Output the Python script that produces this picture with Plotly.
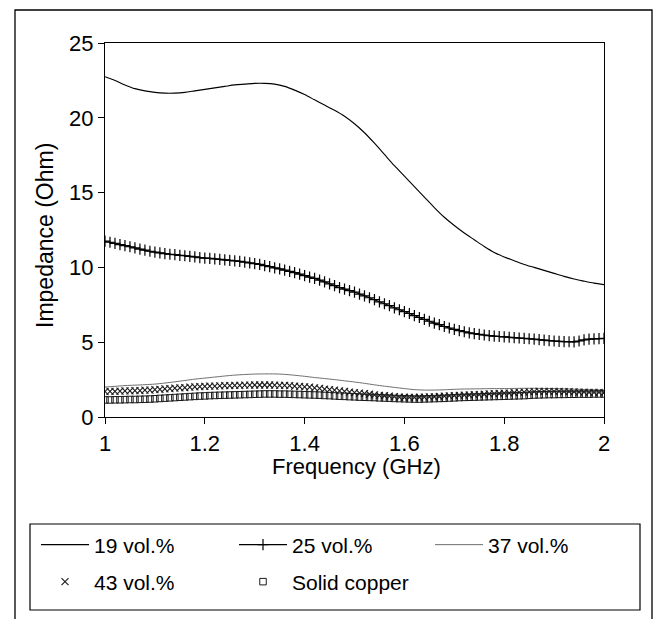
import numpy as np
import plotly.graph_objects as go

# Frequency grids (GHz)
freq_coarse = np.round(1.0 + 0.02 * np.arange(51), 2)
freq_fine = np.round(1.0 + 0.01 * np.arange(101), 2)

# 19 vol.% (solid line), read at 0.02 GHz steps
z19 = [22.75, 22.5, 22.2, 21.95, 21.8, 21.7, 21.65, 21.65, 21.7, 21.8,
       21.9, 22.0, 22.1, 22.2, 22.25, 22.3, 22.3, 22.25, 22.1, 21.85,
       21.55, 21.2, 20.85, 20.5, 20.1, 19.6, 19.0, 18.3, 17.55, 16.8,
       16.1, 15.4, 14.7, 14.0, 13.35, 12.8, 12.3, 11.85, 11.4, 11.0,
       10.7, 10.45, 10.2, 10.0, 9.8, 9.6, 9.4, 9.22, 9.08, 8.95, 8.85]

# 25 vol.% (line with + markers), read at 0.01 GHz steps
z25 = [11.75, 11.68, 11.6, 11.52, 11.45, 11.38, 11.3, 11.22, 11.15, 11.08,
       11.02, 10.97, 10.92, 10.88, 10.85, 10.81, 10.78, 10.74, 10.7, 10.66,
       10.62, 10.6, 10.57, 10.54, 10.5, 10.47, 10.44, 10.4, 10.35, 10.3,
       10.25, 10.2, 10.12, 10.05, 9.97, 9.9, 9.82, 9.74, 9.65, 9.55,
       9.45, 9.35, 9.26, 9.15, 9.03, 8.9, 8.78, 8.65, 8.55, 8.45,
       8.35, 8.22, 8.1, 7.97, 7.84, 7.7, 7.57, 7.44, 7.3, 7.17,
       7.05, 6.92, 6.78, 6.65, 6.52, 6.4, 6.28, 6.17, 6.05, 5.95,
       5.86, 5.78, 5.7, 5.63, 5.57, 5.52, 5.48, 5.44, 5.41, 5.38,
       5.36, 5.33, 5.3, 5.28, 5.25, 5.23, 5.2, 5.17, 5.14, 5.11,
       5.08, 5.06, 5.04, 5.03, 5.02, 5.08, 5.15, 5.2, 5.22, 5.24, 5.25]

# 37 vol.% (thin grey line), read at 0.02 GHz steps
z37 = [2.0, 2.05, 2.1, 2.13, 2.16, 2.2, 2.27, 2.35, 2.44, 2.53,
       2.6, 2.67, 2.74, 2.8, 2.84, 2.87, 2.88, 2.88, 2.85, 2.79,
       2.72, 2.64, 2.57, 2.5, 2.42, 2.34, 2.25, 2.15, 2.06, 1.98,
       1.9, 1.83, 1.8, 1.8, 1.82, 1.85, 1.87, 1.88, 1.89, 1.9,
       1.9, 1.91, 1.92, 1.92, 1.91, 1.9, 1.88, 1.86, 1.84, 1.82, 1.8]

# 43 vol.% (x markers), read at 0.01 GHz steps
z43 = [1.70, 1.71, 1.72, 1.73, 1.74, 1.75, 1.76, 1.77, 1.79, 1.80,
       1.83, 1.85, 1.88, 1.90, 1.93, 1.95, 1.97, 1.99, 2.01, 2.03,
       2.04, 2.06, 2.07, 2.08, 2.09, 2.10, 2.11, 2.12, 2.13, 2.13,
       2.14, 2.14, 2.14, 2.14, 2.13, 2.12, 2.11, 2.09, 2.07, 2.05,
       2.02, 1.99, 1.95, 1.91, 1.87, 1.83, 1.79, 1.75, 1.71, 1.67,
       1.63, 1.59, 1.56, 1.52, 1.48, 1.45, 1.42, 1.39, 1.36, 1.33,
       1.32, 1.31, 1.31, 1.32, 1.33, 1.34, 1.35, 1.37, 1.39, 1.41,
       1.43, 1.44, 1.46, 1.47, 1.49, 1.50, 1.52, 1.54, 1.56, 1.57,
       1.59, 1.60, 1.62, 1.64, 1.66, 1.68, 1.70, 1.71, 1.71, 1.72,
       1.72, 1.71, 1.70, 1.69, 1.68, 1.67, 1.66, 1.65, 1.64, 1.64, 1.63]

# Solid copper (open squares), read at 0.01 GHz steps
zcu = [1.14, 1.14, 1.15, 1.15, 1.16, 1.17, 1.17, 1.18, 1.19, 1.20,
       1.22, 1.24, 1.26, 1.28, 1.30, 1.32, 1.34, 1.36, 1.38, 1.40,
       1.41, 1.43, 1.44, 1.45, 1.46, 1.47, 1.48, 1.49, 1.50, 1.51,
       1.52, 1.53, 1.54, 1.54, 1.54, 1.53, 1.53, 1.52, 1.51, 1.50,
       1.49, 1.48, 1.47, 1.46, 1.44, 1.43, 1.41, 1.39, 1.38, 1.36,
       1.35, 1.33, 1.32, 1.31, 1.30, 1.28, 1.27, 1.26, 1.24, 1.23,
       1.22, 1.21, 1.20, 1.20, 1.21, 1.22, 1.23, 1.24, 1.25, 1.27,
       1.28, 1.30, 1.31, 1.32, 1.33, 1.34, 1.35, 1.36, 1.37, 1.38,
       1.39, 1.40, 1.41, 1.42, 1.43, 1.45, 1.47, 1.48, 1.49, 1.50,
       1.50, 1.51, 1.51, 1.52, 1.52, 1.53, 1.53, 1.53, 1.54, 1.54, 1.54]

x_ticks = [1, 1.2, 1.4, 1.6, 1.8, 2]
x_ticktext = ["1", "1.2", "1.4", "1.6", "1.8", "2"]
y_ticks = [0, 5, 10, 15, 20, 25]

FONT = "Liberation Sans, Arial, Helvetica, sans-serif"
W, H = 658, 619
ML, MR, MT, MB = 105, 54, 43, 202
PW, PH = W - ML - MR, H - MT - MB


def px2x(px):
    return (px - ML) / PW


def px2y(py):
    return (H - MB - py) / PH


fig = go.Figure()
fig.add_trace(go.Scatter(x=freq_coarse, y=z19, mode="lines", name="19 vol.%",
                         line=dict(color="black", width=1.1, shape="spline", smoothing=0.8),
                         legend="legend", showlegend=True))
fig.add_trace(go.Scatter(x=freq_fine, y=z25, mode="lines+markers", name="25 vol.%",
                         line=dict(color="black", width=1.1, shape="spline", smoothing=0.8),
                         marker=dict(symbol="cross-thin", size=8, color="black",
                                     line=dict(color="black", width=1.2)),
                         legend="legend2", showlegend=True))
fig.add_trace(go.Scatter(x=freq_coarse, y=z37, mode="lines", name="37 vol.%",
                         line=dict(color="#6e6e6e", width=1, shape="spline", smoothing=0.8),
                         legend="legend3", showlegend=True))
fig.add_trace(go.Scatter(x=freq_fine, y=z43, mode="markers", name="43 vol.%",
                         marker=dict(symbol="x-thin", size=7, color="#1a1a1a",
                                     line=dict(color="#1a1a1a", width=1.1)),
                         legend="legend4", showlegend=True))
fig.add_trace(go.Scatter(x=freq_fine, y=zcu, mode="markers", name="Solid copper",
                         marker=dict(symbol="square-open", size=6.5, color="#1a1a1a",
                                     line=dict(color="#1a1a1a", width=1)),
                         legend="legend5", showlegend=True))

legend_common = dict(orientation="h", xref="container", yref="container",
                     xanchor="left", yanchor="middle", bgcolor="rgba(0,0,0,0)",
                     borderwidth=0, itemwidth=48, visible=True,
                     font=dict(family=FONT, size=21, color="black"),
                     itemclick=False, itemdoubleclick=False)

row1_y = 1 - 545 / H
row2_y = 1 - 582 / H
col_x = [36 / W, 234 / W, 430 / W]

shapes = [
    # outer frame
    dict(type="rect", xref="paper", yref="paper",
         x0=px2x(15), x1=px2x(652), y0=px2y(640), y1=px2y(10),
         line=dict(color="black", width=1.3)),
    # legend box
    dict(type="rect", xref="paper", yref="paper",
         x0=px2x(30), x1=px2x(640), y0=px2y(610), y1=px2y(524),
         line=dict(color="black", width=1.2)),
]

annotations = [
    dict(text="Frequency (GHz)", xref="paper", yref="paper", x=px2x(356), y=px2y(466),
         xanchor="center", yanchor="middle", showarrow=False,
         font=dict(family=FONT, size=22, color="black")),
    dict(text="Impedance (Ohm)", xref="paper", yref="paper", x=px2x(45), y=px2y(236),
         xanchor="center", yanchor="middle", showarrow=False, textangle=-90,
         font=dict(family=FONT, size=23, color="black")),
]

fig.update_layout(
    width=W, height=H,
    showlegend=True,
    margin=dict(l=ML, r=MR, t=MT, b=MB),
    paper_bgcolor="white", plot_bgcolor="white",
    font=dict(family=FONT, size=21, color="black"),
    legend=dict(x=col_x[0], y=row1_y, **legend_common),
    legend2=dict(x=col_x[1], y=row1_y, **legend_common),
    legend3=dict(x=col_x[2], y=row1_y, **legend_common),
    legend4=dict(x=col_x[0], y=row2_y, **legend_common),
    legend5=dict(x=col_x[1], y=row2_y, **legend_common),
    shapes=shapes,
    annotations=annotations,
    xaxis=dict(range=[1, 2], tickvals=x_ticks, ticktext=x_ticktext,
               showline=True, mirror=True, linecolor="black", linewidth=1.3,
               ticks="outside", ticklen=6, tickcolor="black", showgrid=False,
               zeroline=False, tickfont=dict(family=FONT, size=22, color="black")),
    yaxis=dict(range=[0, 25], tickvals=y_ticks,
               showline=True, mirror=True, linecolor="black", linewidth=1.3,
               ticks="outside", ticklen=6, tickcolor="black", showgrid=False,
               zeroline=False, tickfont=dict(family=FONT, size=22, color="black")),
)

fig.write_html("out.html")
